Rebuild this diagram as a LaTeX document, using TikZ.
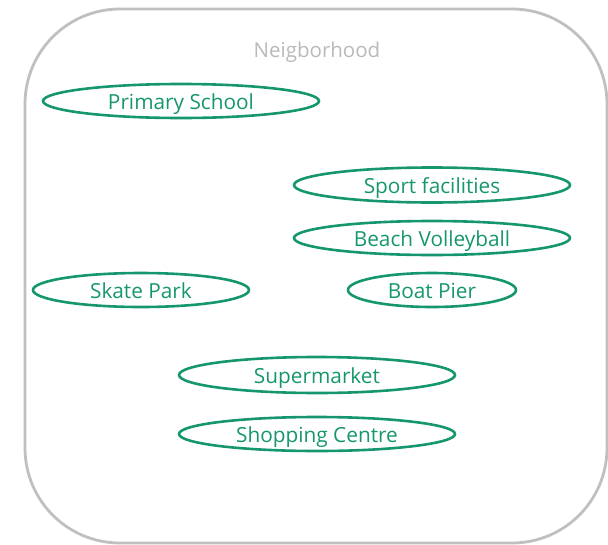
\documentclass[tikz,border=0pt]{standalone}
\usepackage{fontspec}
\setmainfont{Open Sans}
\usetikzlibrary{shapes.geometric}
\definecolor{placegreen}{RGB}{22,150,110}
\definecolor{framegray}{RGB}{192,192,192}
\definecolor{titlegray}{RGB}{185,185,185}
\tikzset{
  place/.style={ellipse, draw=placegreen, line width=2.6pt, text=placegreen,
    inner sep=0pt, text height=16pt, text depth=0pt,
    font=\fontsize{20.8}{24}\selectfont},
  frame/.style={draw=framegray, line width=2.8pt, rounded corners=95pt}
}
\begin{document}
\begin{tikzpicture}[x=1pt,y=-1pt]
\useasboundingbox (0,0) rectangle (608,544);
\draw[frame] (25,9) rectangle (607,543);
\node[text=titlegray, font=\fontsize{20.5}{24}\selectfont, inner sep=0pt, text height=16pt, text depth=0pt] (title) at (317,49) {Neigborhood};
\node[place, minimum width=276pt, minimum height=34pt] (school) at (181,101) {Primary School};
\node[place, minimum width=276pt, minimum height=35pt] (sport) at (432,185) {Sport facilities};
\node[place, minimum width=276pt, minimum height=34pt] (beach) at (432,238) {Beach Volleyball};
\node[place, minimum width=168pt, minimum height=34pt] (pier) at (432,290) {Boat Pier};
\node[place, minimum width=216pt, minimum height=34pt] (skate) at (141,290) {Skate Park};
\node[place, minimum width=276pt, minimum height=36pt] (market) at (317,375) {Supermarket};
\node[place, minimum width=276pt, minimum height=34pt] (centre) at (317,434) {Shopping Centre};
\end{tikzpicture}
\end{document}
